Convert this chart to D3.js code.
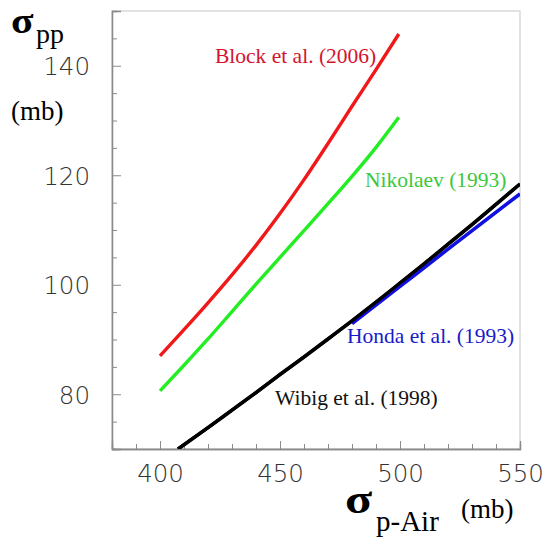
<!DOCTYPE html>
<html><head><meta charset="utf-8">
<script src="https://cdn.jsdelivr.net/npm/d3@7"></script>
<style>html,body{margin:0;padding:0;background:#fff;}svg{display:block;}</style>
</head><body>
<script>
// Data
const xMajorTicks = [400, 450, 500, 550];
const yMajorTicks = [80, 100, 120, 140];
const blockX = [400, 410, 420, 430, 440, 450, 460, 470, 480, 490, 499.5];
const blockY = [87.0, 91.8, 96.7, 101.8, 107.2, 113.0, 119.2, 125.8, 132.6, 139.3, 145.8];
const nikolaevX = [400, 410, 420, 430, 440, 450, 460, 470, 480, 490, 499.5];
const nikolaevY = [80.6, 85.3, 90.1, 95.1, 100.1, 105.0, 109.9, 114.8, 119.8, 125.1, 130.6];
const wibigX = [407.5, 420, 430, 440, 450, 460, 470, 480, 490, 500, 510, 520, 530, 540, 550];
const wibigY = [70.0, 73.9, 77.1, 80.3, 83.6, 86.8, 90.1, 93.4, 96.8, 100.3, 103.8, 107.4, 111.0, 114.7, 118.4];
const hondaX = [480, 500, 520, 550];
const hondaY = [92.9, 99.7, 106.5, 116.6];

const W = 543, H = 538;
const svg = d3.select("body").append("svg").attr("width", W).attr("height", H);

const x = d3.scaleLinear().domain([380, 550]).range([112, 520]);
const y = d3.scaleLinear().domain([70, 150]).range([449, 11]);

// frame
svg.append("rect").attr("x", x(380)).attr("y", y(150))
  .attr("width", x(550) - x(380)).attr("height", y(70) - y(150))
  .attr("fill", "none").attr("stroke", "#cfcfcf").attr("stroke-width", 1.2);

const tickFont = "'DejaVu Sans', sans-serif";
const gray = "#8a8a8a";

// minor ticks
const xMinor = d3.range(380, 551, 10).filter(v => !xMajorTicks.includes(v));
const yMinor = d3.range(70, 151, 5).filter(v => !yMajorTicks.includes(v));

const gxm = svg.append("g").attr("transform", `translate(0,${y(70)})`)
  .call(d3.axisBottom(x).tickValues(xMinor).tickSize(-5).tickFormat(""));
const gym = svg.append("g").attr("transform", `translate(${x(380)},0)`)
  .call(d3.axisLeft(y).tickValues(yMinor).tickSize(-5).tickFormat(""));

const gx = svg.append("g").attr("transform", `translate(0,${y(70)})`)
  .call(d3.axisBottom(x).tickValues(xMajorTicks).tickSize(-8).tickPadding(16).tickFormat(d3.format("d")));
const gy = svg.append("g").attr("transform", `translate(${x(380)},0)`)
  .call(d3.axisLeft(y).tickValues(yMajorTicks).tickSize(-9).tickPadding(22).tickFormat(d3.format("d")));

[gxm, gym, gx, gy].forEach(g => {
  g.selectAll("path.domain").attr("stroke", gray).attr("stroke-width", 1.3);
  g.selectAll(".tick line").attr("stroke", gray).attr("stroke-width", 1);
  g.selectAll(".tick text").attr("font-family", tickFont).attr("font-size", 24.5)
    .attr("font-weight", 200).attr("fill", "#333333");
});
gy.selectAll(".tick text").attr("dy", "0.36em");

// curves
const defs = svg.append("defs");
defs.append("clipPath").attr("id", "clip").append("rect")
  .attr("x", x(380)).attr("y", y(150)).attr("width", x(550) - x(380)).attr("height", y(70) - y(150));

const line = d3.line().x(d => x(d[0])).y(d => y(d[1])).curve(d3.curveMonotoneX);
const series = [
  {xs: wibigX, ys: wibigY, color: "#000000", w: 3.6},
  {xs: hondaX, ys: hondaY, color: "#1010e0", w: 3.6},
  {xs: nikolaevX, ys: nikolaevY, color: "#22ee22", w: 3.4},
  {xs: blockX, ys: blockY, color: "#f01818", w: 3.4}
];
const gc = svg.append("g").attr("clip-path", "url(#clip)");
series.forEach(s => {
  gc.append("path").datum(s.xs.map((v, i) => [v, s.ys[i]]))
    .attr("d", line).attr("fill", "none").attr("stroke", s.color)
    .attr("stroke-width", s.w).attr("stroke-linecap", "butt");
});
// keep black drawn above blue near the junction
gc.append("path").datum(wibigX.map((v, i) => [v, wibigY[i]]))
  .attr("d", line).attr("fill", "none").attr("stroke", "#000").attr("stroke-width", 3.2);

// labels
const serif = "'Liberation Serif', 'Times New Roman', serif";
const labels = [
  {t: "Block et al. (2006)", x: 215, y: 63, c: "#d4142e"},
  {t: "Nikolaev (1993)", x: 365, y: 187, c: "#3cc83c"},
  {t: "Honda et al. (1993)", x: 347, y: 343, c: "#1a1ac8"},
  {t: "Wibig et al. (1998)", x: 275, y: 405, c: "#111111"}
];
labels.forEach(l => {
  svg.append("text").attr("x", l.x).attr("y", l.y).attr("font-family", serif)
    .attr("font-size", 21.5).attr("fill", l.c).text(l.t);
});

// axis titles
svg.append("text").attr("transform", "translate(11,32.5) scale(1.15,1)")
  .attr("font-family", serif).attr("font-size", 36).attr("font-weight", "bold").text("σ");
svg.append("text").attr("x", 36).attr("y", 43).attr("font-family", serif).attr("font-size", 28).text("pp");
svg.append("text").attr("x", 11).attr("y", 120).attr("font-family", serif).attr("font-size", 27).text("(mb)");

svg.append("text").attr("transform", "translate(345,513) scale(1.25,1)")
  .attr("font-family", serif).attr("font-size", 40).attr("font-weight", "bold").text("σ");
svg.append("text").attr("x", 376).attr("y", 531).attr("font-family", serif).attr("font-size", 29).text("p-Air");
svg.append("text").attr("x", 461).attr("y", 518).attr("font-family", serif).attr("font-size", 27).text("(mb)");
</script>
</body></html>
